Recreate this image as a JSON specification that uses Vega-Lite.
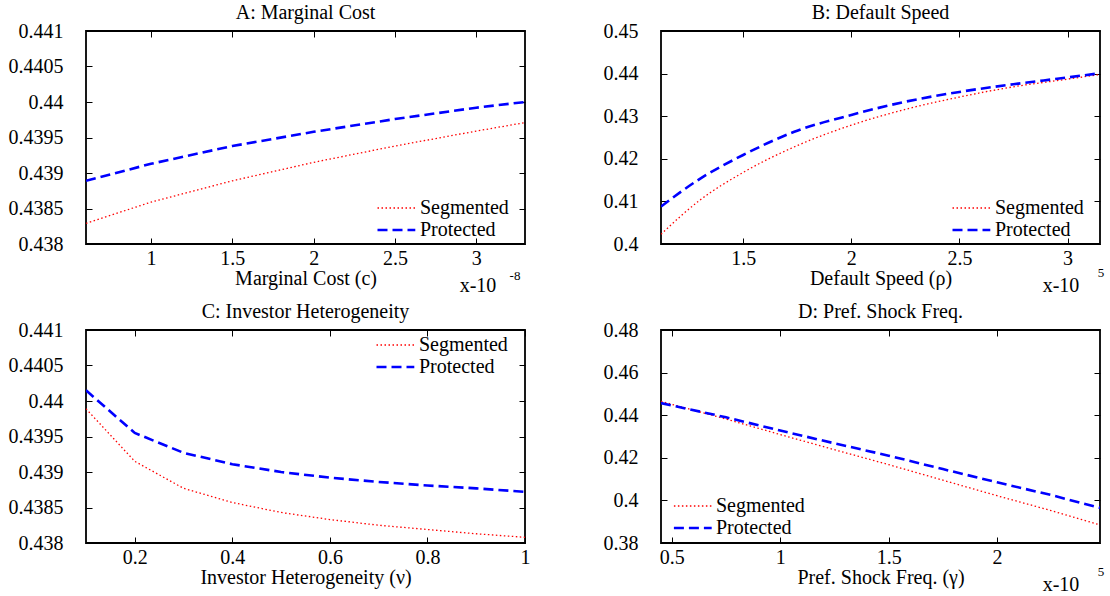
{
  "$schema": "https://vega.github.io/schema/vega-lite/v6.json",
  "padding": {"left": 7, "top": 2, "right": 0, "bottom": 0},
  "background": "white",
  "columns": 2,
  "spacing": {"row": 4, "column": 71},
  "datasets": {
    "a": [
      {"x": 0.6, "model": "Segmented", "y": 0.43829},
      {"x": 1.0, "model": "Segmented", "y": 0.43859},
      {"x": 1.5, "model": "Segmented", "y": 0.43889},
      {"x": 2.0, "model": "Segmented", "y": 0.43915},
      {"x": 2.5, "model": "Segmented", "y": 0.43938},
      {"x": 3.0, "model": "Segmented", "y": 0.43959},
      {"x": 3.3, "model": "Segmented", "y": 0.43971},
      {"x": 0.6, "model": "Protected", "y": 0.43889},
      {"x": 1.0, "model": "Protected", "y": 0.43913},
      {"x": 1.5, "model": "Protected", "y": 0.43938},
      {"x": 2.0, "model": "Protected", "y": 0.43958},
      {"x": 2.5, "model": "Protected", "y": 0.43976},
      {"x": 3.0, "model": "Protected", "y": 0.43992},
      {"x": 3.3, "model": "Protected", "y": 0.44000}
    ],
    "b": [
      {"x": 1.12, "model": "Segmented", "y": 0.4023},
      {"x": 1.3, "model": "Segmented", "y": 0.4103},
      {"x": 1.5, "model": "Segmented", "y": 0.4168},
      {"x": 1.75, "model": "Segmented", "y": 0.4231},
      {"x": 2.0, "model": "Segmented", "y": 0.4279},
      {"x": 2.25, "model": "Segmented", "y": 0.4316},
      {"x": 2.5, "model": "Segmented", "y": 0.4345},
      {"x": 2.75, "model": "Segmented", "y": 0.4369},
      {"x": 3.0, "model": "Segmented", "y": 0.4387},
      {"x": 3.15, "model": "Segmented", "y": 0.4398},
      {"x": 1.12, "model": "Protected", "y": 0.4088},
      {"x": 1.3, "model": "Protected", "y": 0.4153},
      {"x": 1.5, "model": "Protected", "y": 0.4209},
      {"x": 1.75, "model": "Protected", "y": 0.4266},
      {"x": 2.0, "model": "Protected", "y": 0.4303},
      {"x": 2.25, "model": "Protected", "y": 0.4334},
      {"x": 2.5, "model": "Protected", "y": 0.4357},
      {"x": 2.75, "model": "Protected", "y": 0.4375},
      {"x": 3.0, "model": "Protected", "y": 0.4391},
      {"x": 3.15, "model": "Protected", "y": 0.4401}
    ],
    "c": [
      {"x": 0.1, "model": "Segmented", "y": 0.43989},
      {"x": 0.2, "model": "Segmented", "y": 0.43915},
      {"x": 0.3, "model": "Segmented", "y": 0.43877},
      {"x": 0.4, "model": "Segmented", "y": 0.43857},
      {"x": 0.5, "model": "Segmented", "y": 0.43843},
      {"x": 0.6, "model": "Segmented", "y": 0.43833},
      {"x": 0.7, "model": "Segmented", "y": 0.43825},
      {"x": 0.8, "model": "Segmented", "y": 0.43819},
      {"x": 0.9, "model": "Segmented", "y": 0.43813},
      {"x": 1.0, "model": "Segmented", "y": 0.43808},
      {"x": 0.1, "model": "Protected", "y": 0.44015},
      {"x": 0.2, "model": "Protected", "y": 0.43955},
      {"x": 0.3, "model": "Protected", "y": 0.43927},
      {"x": 0.4, "model": "Protected", "y": 0.43911},
      {"x": 0.5, "model": "Protected", "y": 0.43900},
      {"x": 0.6, "model": "Protected", "y": 0.43892},
      {"x": 0.7, "model": "Protected", "y": 0.43886},
      {"x": 0.8, "model": "Protected", "y": 0.43881},
      {"x": 0.9, "model": "Protected", "y": 0.43877},
      {"x": 1.0, "model": "Protected", "y": 0.43872}
    ],
    "d": [
      {"x": 0.45, "model": "Segmented", "y": 0.4465},
      {"x": 0.75, "model": "Segmented", "y": 0.4382},
      {"x": 1.0, "model": "Segmented", "y": 0.4309},
      {"x": 1.25, "model": "Segmented", "y": 0.4238},
      {"x": 1.5, "model": "Segmented", "y": 0.4168},
      {"x": 1.75, "model": "Segmented", "y": 0.4095},
      {"x": 2.0, "model": "Segmented", "y": 0.4022},
      {"x": 2.25, "model": "Segmented", "y": 0.3952},
      {"x": 2.475, "model": "Segmented", "y": 0.3885},
      {"x": 0.45, "model": "Protected", "y": 0.4457},
      {"x": 0.75, "model": "Protected", "y": 0.4390},
      {"x": 1.0, "model": "Protected", "y": 0.4328},
      {"x": 1.25, "model": "Protected", "y": 0.4268},
      {"x": 1.5, "model": "Protected", "y": 0.4210},
      {"x": 1.75, "model": "Protected", "y": 0.4147},
      {"x": 2.0, "model": "Protected", "y": 0.4085},
      {"x": 2.25, "model": "Protected", "y": 0.4025},
      {"x": 2.475, "model": "Protected", "y": 0.3965}
    ]
  },
  "concat": [
    {
      "width": 439, "height": 213,
      "title": {"text": "A: Marginal Cost"},
      "layer": [
        {
          "data": {"name": "a"},
          "mark": {"type": "line", "clip": true},
          "encoding": {
            "x": {"field": "x", "type": "quantitative", "scale": {"domain": [0.6, 3.3], "nice": false, "zero": false}, "axis": {"title": "Marginal Cost (c)", "values": [1, 1.5, 2, 2.5, 3], "format": "~g"}},
            "y": {"field": "y", "type": "quantitative", "scale": {"domain": [0.438, 0.441], "nice": false, "zero": false}, "axis": {"title": null, "values": [0.438, 0.4385, 0.439, 0.4395, 0.44, 0.4405, 0.441], "format": ".4~f"}},
            "color": {"field": "model", "type": "nominal", "scale": {"domain": ["Segmented", "Protected"], "range": ["#ff0000", "#0000ff"]}, "legend": {"orient": "bottom-right", "offset": 4, "title": "\u00a0", "titleOrient": "right", "titlePadding": 12, "encode": {"symbols": {"update": {"strokeDash": {"signal": "datum.value === 'Segmented' ? [1.5, 2.5] : [10, 5]"}, "strokeWidth": {"signal": "datum.value === 'Segmented' ? 1.3 : 2.6"}}}}}},
            "strokeDash": {"field": "model", "type": "nominal", "scale": {"domain": ["Segmented", "Protected"], "range": [[1.5, 2.5], [10, 5]]}, "legend": null},
            "strokeWidth": {"field": "model", "type": "nominal", "scale": {"domain": ["Segmented", "Protected"], "range": [1.3, 2.6]}, "legend": null}
          }
        },
        {
          "data": {"name": "a"},
          "mark": {"type": "line", "opacity": 0},
          "encoding": {
            "x": {"field": "x", "type": "quantitative", "axis": {"orient": "top", "labels": false, "title": null, "values": [1, 1.5, 2, 2.5, 3]}},
            "y": {"field": "y", "type": "quantitative", "axis": {"orient": "right", "labels": false, "title": null, "values": [0.438, 0.4385, 0.439, 0.4395, 0.44, 0.4405, 0.441]}}
          }
        },
        {
          "data": {"values": [{}]},
          "mark": {"type": "text", "text": "x-10", "dx": -47, "dy": 48, "fontSize": 20, "align": "center", "baseline": "alphabetic"},
          "encoding": {"x": {"value": "width"}, "y": {"value": "height"}}
        },
        {
          "data": {"values": [{}]},
          "mark": {"type": "text", "text": "-8", "dx": -10, "dy": 36, "fontSize": 13, "align": "center", "baseline": "alphabetic"},
          "encoding": {"x": {"value": "width"}, "y": {"value": "height"}}
        }
      ],
      "resolve": {"axis": {"x": "independent", "y": "independent"}}
    },
    {
      "width": 439, "height": 213,
      "title": {"text": "B: Default Speed"},
      "layer": [
        {
          "data": {"name": "b"},
          "mark": {"type": "line", "clip": true, "interpolate": "monotone"},
          "encoding": {
            "x": {"field": "x", "type": "quantitative", "scale": {"domain": [1.12, 3.15], "nice": false, "zero": false}, "axis": {"title": "Default Speed (ρ)", "values": [1.5, 2, 2.5, 3], "format": "~g"}},
            "y": {"field": "y", "type": "quantitative", "scale": {"domain": [0.4, 0.45], "nice": false, "zero": false}, "axis": {"title": null, "values": [0.4, 0.41, 0.42, 0.43, 0.44, 0.45], "format": ".2~f"}},
            "color": {"field": "model", "type": "nominal", "scale": {"domain": ["Segmented", "Protected"], "range": ["#ff0000", "#0000ff"]}, "legend": {"orient": "bottom-right", "offset": 4, "title": "\u00a0", "titleOrient": "right", "titlePadding": 12, "encode": {"symbols": {"update": {"strokeDash": {"signal": "datum.value === 'Segmented' ? [1.5, 2.5] : [10, 5]"}, "strokeWidth": {"signal": "datum.value === 'Segmented' ? 1.3 : 2.6"}}}}}},
            "strokeDash": {"field": "model", "type": "nominal", "scale": {"domain": ["Segmented", "Protected"], "range": [[1.5, 2.5], [10, 5]]}, "legend": null},
            "strokeWidth": {"field": "model", "type": "nominal", "scale": {"domain": ["Segmented", "Protected"], "range": [1.3, 2.6]}, "legend": null}
          }
        },
        {
          "data": {"name": "b"},
          "mark": {"type": "line", "opacity": 0},
          "encoding": {
            "x": {"field": "x", "type": "quantitative", "axis": {"orient": "top", "labels": false, "title": null, "values": [1.5, 2, 2.5, 3]}},
            "y": {"field": "y", "type": "quantitative", "axis": {"orient": "right", "labels": false, "title": null, "values": [0.4, 0.41, 0.42, 0.43, 0.44, 0.45]}}
          }
        },
        {
          "data": {"values": [{}]},
          "mark": {"type": "text", "text": "x-10", "dx": -39, "dy": 48, "fontSize": 20, "align": "center", "baseline": "alphabetic"},
          "encoding": {"x": {"value": "width"}, "y": {"value": "height"}}
        },
        {
          "data": {"values": [{}]},
          "mark": {"type": "text", "text": "5", "dx": 1, "dy": 33, "fontSize": 13, "align": "center", "baseline": "alphabetic"},
          "encoding": {"x": {"value": "width"}, "y": {"value": "height"}}
        }
      ],
      "resolve": {"axis": {"x": "independent", "y": "independent"}}
    },
    {
      "width": 439, "height": 213,
      "title": {"text": "C: Investor Heterogeneity"},
      "layer": [
        {
          "data": {"name": "c"},
          "mark": {"type": "line", "clip": true},
          "encoding": {
            "x": {"field": "x", "type": "quantitative", "scale": {"domain": [0.1, 1], "nice": false, "zero": false}, "axis": {"title": "Investor Heterogeneity (ν)", "values": [0.2, 0.4, 0.6, 0.8, 1], "format": "~g"}},
            "y": {"field": "y", "type": "quantitative", "scale": {"domain": [0.438, 0.441], "nice": false, "zero": false}, "axis": {"title": null, "values": [0.438, 0.4385, 0.439, 0.4395, 0.44, 0.4405, 0.441], "format": ".4~f"}},
            "color": {"field": "model", "type": "nominal", "scale": {"domain": ["Segmented", "Protected"], "range": ["#ff0000", "#0000ff"]}, "legend": {"orient": "top-right", "offset": 5, "title": "\u00a0", "titleOrient": "right", "titlePadding": 12, "encode": {"symbols": {"update": {"strokeDash": {"signal": "datum.value === 'Segmented' ? [1.5, 2.5] : [10, 5]"}, "strokeWidth": {"signal": "datum.value === 'Segmented' ? 1.3 : 2.6"}}}}}},
            "strokeDash": {"field": "model", "type": "nominal", "scale": {"domain": ["Segmented", "Protected"], "range": [[1.5, 2.5], [10, 5]]}, "legend": null},
            "strokeWidth": {"field": "model", "type": "nominal", "scale": {"domain": ["Segmented", "Protected"], "range": [1.3, 2.6]}, "legend": null}
          }
        },
        {
          "data": {"name": "c"},
          "mark": {"type": "line", "opacity": 0},
          "encoding": {
            "x": {"field": "x", "type": "quantitative", "axis": {"orient": "top", "labels": false, "title": null, "values": [0.2, 0.4, 0.6, 0.8, 1]}},
            "y": {"field": "y", "type": "quantitative", "axis": {"orient": "right", "labels": false, "title": null, "values": [0.438, 0.4385, 0.439, 0.4395, 0.44, 0.4405, 0.441]}}
          }
        }
      ],
      "resolve": {"axis": {"x": "independent", "y": "independent"}}
    },
    {
      "width": 439, "height": 213,
      "title": {"text": "D: Pref. Shock Freq."},
      "layer": [
        {
          "data": {"name": "d"},
          "mark": {"type": "line", "clip": true},
          "encoding": {
            "x": {"field": "x", "type": "quantitative", "scale": {"domain": [0.45, 2.475], "nice": false, "zero": false}, "axis": {"title": "Pref. Shock Freq. (γ)", "values": [0.5, 1, 1.5, 2], "format": "~g"}},
            "y": {"field": "y", "type": "quantitative", "scale": {"domain": [0.38, 0.48], "nice": false, "zero": false}, "axis": {"title": null, "values": [0.38, 0.4, 0.42, 0.44, 0.46, 0.48], "format": ".2~f"}},
            "color": {"field": "model", "type": "nominal", "scale": {"domain": ["Segmented", "Protected"], "range": ["#ff0000", "#0000ff"]}, "legend": {"orient": "bottom-left", "offset": 5, "symbolType": "M-0.2,0H3.4", "labelOffset": 30, "encode": {"symbols": {"update": {"strokeDash": {"signal": "datum.value === 'Segmented' ? [1.5, 2.5] : [10, 5]"}, "strokeWidth": {"signal": "datum.value === 'Segmented' ? 1.3 : 2.6"}}}}}},
            "strokeDash": {"field": "model", "type": "nominal", "scale": {"domain": ["Segmented", "Protected"], "range": [[1.5, 2.5], [10, 5]]}, "legend": null},
            "strokeWidth": {"field": "model", "type": "nominal", "scale": {"domain": ["Segmented", "Protected"], "range": [1.3, 2.6]}, "legend": null}
          }
        },
        {
          "data": {"name": "d"},
          "mark": {"type": "line", "opacity": 0},
          "encoding": {
            "x": {"field": "x", "type": "quantitative", "axis": {"orient": "top", "labels": false, "title": null, "values": [0.5, 1, 1.5, 2]}},
            "y": {"field": "y", "type": "quantitative", "axis": {"orient": "right", "labels": false, "title": null, "values": [0.38, 0.4, 0.42, 0.44, 0.46, 0.48]}}
          }
        },
        {
          "data": {"values": [{}]},
          "mark": {"type": "text", "text": "x-10", "dx": -39, "dy": 48, "fontSize": 20, "align": "center", "baseline": "alphabetic"},
          "encoding": {"x": {"value": "width"}, "y": {"value": "height"}}
        },
        {
          "data": {"values": [{}]},
          "mark": {"type": "text", "text": "5", "dx": 1, "dy": 33, "fontSize": 13, "align": "center", "baseline": "alphabetic"},
          "encoding": {"x": {"value": "width"}, "y": {"value": "height"}}
        }
      ],
      "resolve": {"axis": {"x": "independent", "y": "independent"}}
    }
  ],
  "config": {
    "font": "Liberation Serif",
    "view": {"stroke": "black", "strokeWidth": 1.8},
    "title": {"font": "Liberation Serif", "fontSize": 20, "fontWeight": "normal", "color": "black", "offset": -2, "anchor": "middle"},
    "text": {"color": "black", "font": "Liberation Serif"},
    "axis": {
      "domain": false,
      "grid": false,
      "ticks": true,
      "tickSize": -6,
      "tickColor": "black",
      "tickWidth": 1,
      "labelFont": "Liberation Serif",
      "titleFont": "Liberation Serif",
      "labelFontSize": 20,
      "labelColor": "black",
      "titleFontSize": 20,
      "titleFontWeight": "normal",
      "titleColor": "black",
      "labelFlush": false,
      "labelOverlap": false
    },
    "axisX": {"labelPadding": 10, "titlePadding": 0},
    "axisY": {"labelPadding": 29},
    "legend": {
      "title": null,
      "titleFont": "Liberation Serif",
      "titleFontSize": 20,
      "labelFont": "Liberation Serif",
      "symbolType": "M-1,0H2.6",
      "symbolSize": 441,
      "symbolFillColor": "transparent",
      "labelFontSize": 20,
      "labelColor": "black",
      "labelLimit": 300,
      "labelOffset": 22,
      "rowPadding": 2,
      "padding": 0,
      "symbolOpacity": 1
    }
  }
}
